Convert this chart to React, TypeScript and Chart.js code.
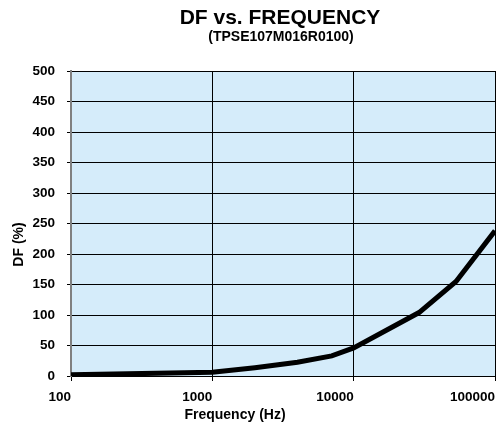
import React, { useEffect, useRef } from "react";
import { Chart, registerables } from "chart.js";

Chart.register(...registerables);

const TITLE = "DF vs. FREQUENCY";
const SUBTITLE = "(TPSE107M016R0100)";
const X_TITLE = "Frequency (Hz)";
const Y_TITLE = "DF (%)";

const frequencies = [100, 1000, 2000, 4000, 7000, 10000, 29000, 53000, 100000];
const dfValues = [2, 6, 13.5, 22.5, 33, 46, 104, 155, 238];
const xTickValues = [100, 1000, 10000, 100000];
const yMin = 0;
const yMax = 500;
const yStep = 50;

const FONT = '"Liberation Sans", Arial, Helvetica, sans-serif';

const decorPlugin = {
  id: "decor",
  beforeDraw(chart: any) {
    const { ctx, chartArea: a } = chart;
    ctx.save();
    ctx.fillStyle = "#d5ecfa";
    ctx.fillRect(a.left, a.top, a.right - a.left, a.bottom - a.top);
    ctx.restore();
  },
  afterDraw(chart: any) {
    const ctx = chart.ctx;
    ctx.save();
    ctx.fillStyle = "#000";
    ctx.textAlign = "center";
    ctx.textBaseline = "alphabetic";
    ctx.font = `bold 21px ${FONT}`;
    ctx.fillText(TITLE, 280, 24);
    ctx.font = `bold 14px ${FONT}`;
    ctx.fillText(SUBTITLE, 281, 40.5);
    ctx.fillText(X_TITLE, 235, 419);
    ctx.translate(19, 244.5);
    ctx.rotate(-Math.PI / 2);
    ctx.textBaseline = "middle";
    ctx.fillText(Y_TITLE, 0, 0);
    ctx.restore();
  },
};

export default function App() {
  const ref = useRef<HTMLCanvasElement | null>(null);

  useEffect(() => {
    document.body.style.margin = "0";
    const canvas = ref.current;
    if (!canvas) return;
    const chart = new Chart(canvas, {
      type: "line",
      data: {
        datasets: [
          {
            data: frequencies.map((f, i) => ({ x: f, y: dfValues[i] })),
            borderColor: "#000",
            borderWidth: 5,
            pointRadius: 0,
            tension: 0,
            fill: false,
          },
        ],
      },
      options: {
        animation: false,
        responsive: false,
        devicePixelRatio: 1,
        layout: { padding: { top: 71, right: 1, bottom: 0, left: 0 } },
        plugins: {
          legend: { display: false },
          tooltip: { enabled: false },
          title: { display: false },
        },
        scales: {
          x: {
            type: "logarithmic",
            min: 100,
            max: 100000,
            afterBuildTicks: (s: any) => {
              s.ticks = xTickValues.map((v) => ({ value: v }));
            },
            afterFit: (s: any) => {
              s.height = 46;
              s.paddingLeft = 0;
              s.paddingRight = 0;
            },
            ticks: {
              align: "end",
              padding: 8,
              color: "#000",
              autoSkip: false,
              maxRotation: 0,
              font: { family: FONT, size: 13.5, weight: "bold" },
              callback: (v: any) => String(v),
            },
            grid: { color: "#000", lineWidth: 1, tickLength: 5, drawTicks: true },
            border: { color: "#000", width: 1 },
          },
          y: {
            type: "linear",
            min: yMin,
            max: yMax,
            afterFit: (s: any) => {
              s.width = 71;
            },
            ticks: {
              stepSize: yStep,
              padding: 12,
              color: "#000",
              font: { family: FONT, size: 13.5, weight: "bold" },
            },
            grid: { color: "#000", lineWidth: 1, tickLength: 4, drawTicks: true },
            border: { color: "#808080", width: 2 },
          },
        },
      },
      plugins: [decorPlugin],
    } as any);
    return () => chart.destroy();
  }, []);

  return (
    <canvas
      ref={ref}
      width={496}
      height={422}
      style={{ display: "block", width: 496, height: 422 }}
    />
  );
}
